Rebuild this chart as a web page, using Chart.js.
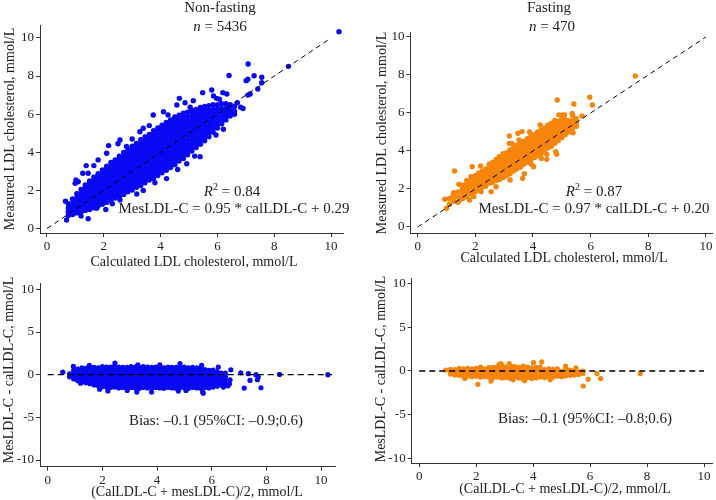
<!DOCTYPE html>
<html><head><meta charset="utf-8">
<script src="https://cdn.jsdelivr.net/npm/chart.js@4.4.1/dist/chart.umd.min.js"></script>
<style>
html,body{margin:0;padding:0;background:#fff;}
body{width:716px;height:500px;position:relative;overflow:hidden;font-family:"Liberation Serif","Times New Roman",serif;color:#222;}
canvas{position:absolute;left:0;top:0;}
.t{position:absolute;white-space:nowrap;transform:translate(-50%,-50%);font-size:15px;line-height:1;}
.a{position:absolute;white-space:nowrap;transform:translate(-50%,-50%);font-size:14px;line-height:1;}
.v{transform:translate(-50%,-50%) rotate(-90deg);}
sup{font-size:10px;vertical-align:0;position:relative;top:-6px;}
</style></head><body>
<canvas id="c1" width="716" height="500" style="width:716px;height:500px"></canvas>
<canvas id="c2" width="716" height="500" style="width:716px;height:500px"></canvas>
<canvas id="c3" width="716" height="500" style="width:716px;height:500px"></canvas>
<canvas id="c4" width="716" height="500" style="width:716px;height:500px"></canvas>

<div class="t" style="left:220px;top:7px">Non-fasting</div>
<div class="t" style="left:220px;top:26px"><i>n</i> = 5436</div>
<div class="t" style="left:549px;top:7px">Fasting</div>
<div class="t" style="left:552px;top:26px"><i>n</i> = 470</div>
<div class="t" style="left:232px;top:191px"><i>R</i><sup>2</sup> = 0.84</div>
<div class="t" style="left:234px;top:208px">MesLDL-C = 0.95 * calLDL-C + 0.29</div>
<div class="t" style="left:594px;top:191px"><i>R</i><sup>2</sup> = 0.87</div>
<div class="t" style="left:594px;top:208px">MesLDL-C = 0.97 * calLDL-C + 0.20</div>
<div class="t" style="left:216px;top:420px">Bias: –0.1 (95%CI: –0.9;0.6)</div>
<div class="t" style="left:585px;top:418px">Bias: –0.1 (95%CI: –0.8;0.6)</div>

<div class="a" style="left:194px;top:262px">Calculated LDL cholesterol, mmol/L</div>
<div class="a" style="left:564px;top:258px">Calculated LDL cholesterol, mmol/L</div>
<div class="a" style="left:197px;top:492px">(CalLDL-C + mesLDL-C)/2, mmol/L</div>
<div class="a" style="left:565px;top:489px">(CalLDL-C + mesLDL-C)/2, mmol/L</div>
<div class="a v" style="left:10px;top:129px">Measured LDL cholesterol, mmol/L</div>
<div class="a v" style="left:382px;top:133px">Measured LDL cholesterol, mmol/L</div>
<div class="a v" style="left:9px;top:370px">MesLDL-C - calLDL-C, mmol/L</div>
<div class="a v" style="left:381px;top:369px">MesLDL-C - calLDL-C, mmol/L</div>

<script>
// ---------- tick labels ----------
const xTicks = [0, 2, 4, 6, 8, 10];
const yTicksScatter = [0, 2, 4, 6, 8, 10];
const yTicksDiff = [-10, -5, 0, 5, 10];

// ---------- Non-fasting: measured vs calculated (dense core read column by column: [calc, [measured...]]) ----------
const nfCore = [
 [0.75,[0.68,0.88,1.08,1.30]],
 [0.90,[0.73,0.93,1.13,1.33,1.55]],
 [1.05,[0.82,1.02,1.22,1.42,1.62,1.82]],
 [1.20,[0.86,1.06,1.26,1.46,1.66,1.86,2.05]],
 [1.35,[0.95,1.15,1.35,1.55,1.75,1.95,2.15,2.28]],
 [1.50,[1.00,1.20,1.40,1.60,1.80,2.00,2.20,2.40,2.50]],
 [1.65,[1.09,1.29,1.49,1.69,1.89,2.09,2.29,2.49,2.69]],
 [1.80,[1.18,1.38,1.58,1.78,1.98,2.18,2.38,2.58,2.78,2.88]],
 [1.95,[1.27,1.47,1.67,1.87,2.07,2.27,2.47,2.67,2.87,3.07]],
 [2.10,[1.37,1.57,1.77,1.97,2.17,2.37,2.57,2.77,2.97,3.17,3.27]],
 [2.25,[1.46,1.66,1.86,2.06,2.26,2.46,2.66,2.86,3.06,3.26,3.46]],
 [2.40,[1.60,1.80,2.00,2.20,2.40,2.60,2.80,3.00,3.20,3.40,3.60]],
 [2.55,[1.69,1.89,2.09,2.29,2.49,2.69,2.89,3.09,3.29,3.49,3.69,3.79]],
 [2.70,[1.79,1.99,2.19,2.39,2.59,2.79,2.99,3.19,3.39,3.59,3.79,3.99]],
 [2.85,[1.93,2.13,2.33,2.53,2.73,2.93,3.13,3.33,3.53,3.73,3.93,4.13]],
 [3.00,[2.02,2.22,2.42,2.62,2.82,3.02,3.22,3.42,3.62,3.82,4.02,4.22,4.32]],
 [3.15,[2.16,2.36,2.56,2.76,2.96,3.16,3.36,3.56,3.76,3.96,4.16,4.36,4.46]],
 [3.30,[2.26,2.46,2.66,2.86,3.06,3.26,3.46,3.66,3.86,4.06,4.26,4.46,4.66]],
 [3.45,[2.40,2.60,2.80,3.00,3.20,3.40,3.60,3.80,4.00,4.20,4.40,4.60,4.80]],
 [3.60,[2.54,2.74,2.94,3.14,3.34,3.54,3.74,3.94,4.14,4.34,4.54,4.74,4.94]],
 [3.75,[2.63,2.83,3.03,3.23,3.43,3.63,3.83,4.03,4.23,4.43,4.63,4.83,5.03,5.13]],
 [3.90,[2.78,2.98,3.18,3.38,3.58,3.78,3.98,4.18,4.38,4.58,4.78,4.98,5.18,5.28]],
 [4.05,[2.92,3.12,3.32,3.52,3.72,3.92,4.12,4.32,4.52,4.72,4.92,5.12,5.32,5.42]],
 [4.20,[3.06,3.26,3.46,3.66,3.86,4.06,4.26,4.46,4.66,4.86,5.06,5.26,5.46,5.56]],
 [4.35,[3.20,3.40,3.60,3.80,4.00,4.20,4.40,4.60,4.80,5.00,5.20,5.40,5.60,5.70]],
 [4.50,[3.35,3.55,3.75,3.95,4.15,4.35,4.55,4.75,4.95,5.15,5.35,5.55,5.75,5.85]],
 [4.65,[3.54,3.74,3.94,4.14,4.34,4.54,4.74,4.94,5.14,5.34,5.54,5.74,5.94]],
 [4.80,[3.68,3.88,4.08,4.28,4.48,4.68,4.88,5.08,5.28,5.48,5.68,5.88,6.05]],
 [4.95,[3.87,4.07,4.27,4.47,4.67,4.87,5.07,5.27,5.47,5.67,5.87,6.10]],
 [5.10,[4.07,4.27,4.47,4.67,4.87,5.07,5.27,5.47,5.67,5.87,6.07,6.20]],
 [5.25,[4.25,4.45,4.65,4.85,5.05,5.25,5.45,5.65,5.85,6.05,6.25]],
 [5.40,[4.42,4.62,4.82,5.02,5.22,5.42,5.62,5.82,6.02,6.22,6.35]],
 [5.55,[4.60,4.80,5.00,5.20,5.40,5.60,5.80,6.00,6.20,6.40]],
 [5.70,[4.82,5.02,5.22,5.42,5.62,5.82,6.02,6.22,6.45]],
 [5.85,[5.05,5.25,5.45,5.65,5.85,6.05,6.25,6.50]],
 [6.00,[5.27,5.47,5.67,5.87,6.07,6.27,6.50]],
 [6.15,[5.50,5.70,5.90,6.10,6.30,6.55]],
 [6.30,[5.70,5.90,6.10,6.30,6.55]],
 [6.45,[5.90,6.10,6.30,6.50]],
 [6.60,[6.15,6.40]]
];
const nfScatter = [
 [10.28,10.33],[8.50,8.51],[7.08,8.63],[6.41,8.03],[7.29,8.02],[7.56,7.94],[7.56,7.65],[7.01,7.76],[7.07,7.83],
 [7.42,7.32],[7.15,7.06],[7.07,7.00],[6.82,6.36],[5.80,7.27],[6.19,7.13],[6.33,7.06],[5.48,7.13],[5.86,6.96],
 [5.97,6.83],[6.07,6.78],[4.66,6.83],[5.15,6.71],[4.86,6.60],[4.57,6.48],[5.04,6.36],[4.10,6.13],[3.74,5.96],
 [4.26,5.96],[6.44,5.99],[3.39,5.26],[3.27,5.08],[2.57,4.65],[2.50,4.45],[2.17,4.35],[2.10,3.95],[1.65,3.30],
 [1.80,3.60],[1.38,3.30],[1.45,2.90],[1.26,2.90],[1.02,2.55],[0.99,2.37],[1.10,2.45],[0.65,1.43],[0.69,0.45],
 [1.45,0.51],[2.07,1.00],[1.75,1.06],[3.16,1.81],[2.57,1.50],[3.39,2.00],[4.21,2.62],[4.92,3.40],[5.39,3.77],
 [5.95,4.91],[6.21,5.21],[5.64,4.96],[6.60,6.00],[6.90,6.30],[3.00,4.70],[3.60,5.40],[2.80,4.30],[4.60,3.10],
 [5.20,3.80],[3.80,2.40],[2.30,1.30],[1.20,0.65],[6.70,6.60]
];

// ---------- Fasting: measured vs calculated ----------
const fCore = [
 [1.10,[1.20,1.50]],
 [1.25,[1.35,1.55,1.80]],
 [1.40,[1.30,1.60,1.85]],
 [1.55,[1.50,1.75,2.00,2.20]],
 [1.70,[1.60,1.85,2.05,2.25,2.45]],
 [1.85,[1.75,1.95,2.20,2.45,2.65]],
 [2.00,[1.85,2.05,2.25,2.50,2.70]],
 [2.12,[1.95,2.20,2.40,2.65,2.85]],
 [2.24,[2.10,2.30,2.50,2.70,2.95]],
 [2.36,[2.15,2.40,2.60,2.80,3.05]],
 [2.48,[2.30,2.50,2.70,2.90,3.10,3.30]],
 [2.60,[2.35,2.60,2.80,3.00,3.20,3.40]],
 [2.72,[2.45,2.70,2.90,3.10,3.35,3.55]],
 [2.84,[2.50,2.70,2.90,3.10,3.30,3.50,3.70]],
 [2.96,[2.60,2.80,3.00,3.20,3.40,3.60,3.85]],
 [3.08,[2.70,2.90,3.10,3.30,3.50,3.70,3.90]],
 [3.20,[2.80,3.00,3.20,3.40,3.60,3.80,4.05]],
 [3.32,[2.95,3.15,3.35,3.55,3.75,3.95,4.15]],
 [3.44,[3.05,3.25,3.45,3.65,3.85,4.05,4.30]],
 [3.56,[3.15,3.35,3.55,3.75,3.95,4.15,4.40]],
 [3.68,[3.30,3.50,3.70,3.90,4.10,4.30,4.50]],
 [3.80,[3.40,3.60,3.80,4.00,4.20,4.40,4.65]],
 [3.92,[3.50,3.70,3.90,4.10,4.30,4.50,4.75]],
 [4.04,[3.65,3.85,4.05,4.25,4.45,4.65,4.85]],
 [4.16,[3.75,3.95,4.15,4.35,4.55,4.75,5.00]],
 [4.28,[3.85,4.05,4.25,4.45,4.65,4.85,5.10]],
 [4.40,[4.00,4.20,4.40,4.60,4.80,5.00,5.20]],
 [4.52,[4.15,4.35,4.55,4.75,4.95,5.15,5.35]],
 [4.64,[4.25,4.45,4.65,4.85,5.05,5.25,5.45]],
 [4.76,[4.40,4.60,4.80,5.00,5.20,5.40,5.60]],
 [4.88,[4.55,4.75,4.95,5.15,5.35,5.55]],
 [5.00,[4.70,4.90,5.10,5.30,5.50,5.70]],
 [5.12,[4.85,5.05,5.25,5.45,5.65]],
 [5.24,[5.00,5.20,5.40,5.60]],
 [5.36,[5.15,5.35,5.55]],
 [5.50,[5.30,5.50,5.70]]
];
const fScatter = [
 [0.94,1.46],[1.00,0.98],[1.23,1.68],[1.28,2.95],[1.43,2.25],[1.46,1.42],[1.57,2.09],[1.57,1.51],[1.63,1.86],
 [1.74,2.26],[1.86,1.77],[1.92,2.47],[2.03,2.30],[2.18,3.21],[2.32,2.47],[1.80,1.42],[1.95,1.60],[2.20,1.86],
 [2.55,1.86],[2.72,2.12],[2.83,3.70],[2.95,3.53],[3.18,4.40],[3.52,4.58],[3.70,4.40],[3.64,2.56],[3.70,2.80],
 [3.21,2.47],[3.19,2.83],[4.02,3.17],[4.79,3.96],[4.48,3.83],[4.48,3.56],[4.82,3.83],[4.67,4.93],[5.02,5.89],
 [5.36,5.98],[4.84,6.68],[5.42,6.47],[5.97,6.83],[6.06,6.42],[5.10,5.90],[5.38,5.84],[5.70,5.84],[5.51,5.49],
 [5.39,4.96],[7.55,7.95],[1.89,3.17],[3.18,4.79],[3.48,4.93],[3.62,5.02],[3.88,5.00],[3.27,4.40],[4.25,5.37],
 [4.53,5.37],[4.90,5.90],[5.25,5.46],[4.96,5.19],[2.60,2.38],[2.49,2.74],[2.66,2.91],[4.30,3.60],[3.95,3.30]
];

// ---------- Non-fasting: Bland-Altman (mean, difference) ----------
const nfBaCore = [
 [0.80,[-0.25,0.10]],
 [0.95,[-0.50,-0.15,0.20,0.50]],
 [1.10,[-0.70,-0.35,0.00,0.35,0.65]],
 [1.25,[-0.85,-0.50,-0.15,0.20,0.55,0.80]],
 [1.40,[-0.95,-0.60,-0.25,0.10,0.45,0.75]],
 [1.55,[-1.05,-0.70,-0.35,0.00,0.35,0.70,0.90]],
 [1.70,[-1.20,-0.85,-0.50,-0.15,0.20,0.55,0.85]],
 [1.85,[-1.30,-0.95,-0.60,-0.25,0.10,0.45,0.80]],
 [2.00,[-1.40,-1.05,-0.70,-0.35,0.00,0.35,0.70,0.95]],
 [2.15,[-1.45,-1.10,-0.75,-0.40,-0.05,0.30,0.65,0.90]],
 [2.30,[-1.50,-1.15,-0.80,-0.45,-0.10,0.25,0.60,0.90]],
 [2.45,[-1.45,-1.10,-0.75,-0.40,-0.05,0.30,0.65,1.00]],
 [2.60,[-1.55,-1.20,-0.85,-0.50,-0.15,0.20,0.55,0.90]],
 [2.75,[-1.50,-1.15,-0.80,-0.45,-0.10,0.25,0.60,0.85]],
 [2.90,[-1.60,-1.25,-0.90,-0.55,-0.20,0.15,0.50,0.85]],
 [3.05,[-1.50,-1.15,-0.80,-0.45,-0.10,0.25,0.60,0.95]],
 [3.20,[-1.55,-1.20,-0.85,-0.50,-0.15,0.20,0.55,0.90]],
 [3.35,[-1.60,-1.25,-0.90,-0.55,-0.20,0.15,0.50,0.85]],
 [3.50,[-1.50,-1.15,-0.80,-0.45,-0.10,0.25,0.60,0.95]],
 [3.65,[-1.55,-1.20,-0.85,-0.50,-0.15,0.20,0.55,0.90]],
 [3.80,[-1.60,-1.25,-0.90,-0.55,-0.20,0.15,0.50,0.85]],
 [3.95,[-1.50,-1.15,-0.80,-0.45,-0.10,0.25,0.60,0.90]],
 [4.10,[-1.55,-1.20,-0.85,-0.50,-0.15,0.20,0.55,0.85]],
 [4.25,[-1.60,-1.25,-0.90,-0.55,-0.20,0.15,0.50,0.80]],
 [4.40,[-1.50,-1.15,-0.80,-0.45,-0.10,0.25,0.60,0.90]],
 [4.55,[-1.55,-1.20,-0.85,-0.50,-0.15,0.20,0.55,0.85]],
 [4.70,[-1.60,-1.25,-0.90,-0.55,-0.20,0.15,0.50,0.85]],
 [4.85,[-1.50,-1.15,-0.80,-0.45,-0.10,0.25,0.60,0.95]],
 [5.00,[-1.55,-1.20,-0.85,-0.50,-0.15,0.20,0.55,0.90]],
 [5.15,[-1.60,-1.25,-0.90,-0.55,-0.20,0.15,0.50,0.80]],
 [5.30,[-1.50,-1.15,-0.80,-0.45,-0.10,0.25,0.60,0.85]],
 [5.45,[-1.55,-1.20,-0.85,-0.50,-0.15,0.20,0.55,0.80]],
 [5.60,[-1.60,-1.25,-0.90,-0.55,-0.20,0.15,0.50,0.75]],
 [5.75,[-1.50,-1.15,-0.80,-0.45,-0.10,0.25,0.60]],
 [5.90,[-1.55,-1.20,-0.85,-0.50,-0.15,0.20,0.50]],
 [6.05,[-1.45,-1.10,-0.75,-0.40,-0.05,0.30,0.55]],
 [6.20,[-1.35,-1.00,-0.65,-0.30,0.05,0.35]],
 [6.35,[-1.20,-0.85,-0.50,-0.15,0.20]],
 [6.50,[-1.00,-0.60,-0.20,0.20]]
];
const nfBaScatter = [
 [0.55,0.30],[0.94,0.97],[1.52,1.09],[2.46,1.36],[3.26,-2.04],[2.91,-1.84],[5.06,-1.84],[5.67,-2.04],[5.63,1.09],
 [6.24,0.89],[6.43,-1.45],[6.67,-0.59],[6.65,-1.06],[6.70,0.58],[7.06,0.23],[7.34,0.12],[7.62,0.00],[7.40,-0.67],
 [7.67,-0.59],[7.70,-0.28],[7.19,-1.57],[7.80,-1.53],[8.48,0.03],[10.25,0.00],[3.80,-2.04],[4.78,-1.92],
 [5.69,-2.16],[4.84,1.29],[3.30,1.15],[4.10,1.15],[1.90,-1.70],[2.20,-1.90],[1.20,-1.00],[6.60,-1.30]
];

// ---------- Fasting: Bland-Altman ----------
const fBaCore = [
 [1.10,[-0.35,-0.05,0.20]],
 [1.25,[-0.45,-0.15,0.15]],
 [1.40,[-0.50,-0.20,0.10,0.30]],
 [1.55,[-0.60,-0.30,0.00,0.25]],
 [1.70,[-0.55,-0.25,0.05,0.30]],
 [1.85,[-0.65,-0.35,-0.05,0.25]],
 [2.00,[-0.60,-0.30,0.00,0.30]],
 [2.15,[-0.70,-0.40,-0.10,0.20,0.45]],
 [2.30,[-0.65,-0.35,-0.05,0.25]],
 [2.45,[-0.70,-0.40,-0.10,0.20,0.40]],
 [2.60,[-0.75,-0.45,-0.15,0.15,0.40]],
 [2.75,[-0.70,-0.40,-0.10,0.20,0.50]],
 [2.90,[-0.80,-0.50,-0.20,0.10,0.40,0.65]],
 [3.05,[-0.75,-0.45,-0.15,0.15,0.45]],
 [3.20,[-0.85,-0.55,-0.25,0.05,0.35,0.60]],
 [3.35,[-0.70,-0.40,-0.10,0.20,0.50]],
 [3.50,[-0.80,-0.50,-0.20,0.10,0.40]],
 [3.65,[-0.90,-0.60,-0.30,0.00,0.30,0.55]],
 [3.80,[-0.75,-0.45,-0.15,0.15,0.45]],
 [3.95,[-0.85,-0.55,-0.25,0.05,0.35]],
 [4.10,[-0.80,-0.50,-0.20,0.10,0.40]],
 [4.25,[-0.70,-0.40,-0.10,0.20,0.45]],
 [4.40,[-0.75,-0.45,-0.15,0.15]],
 [4.55,[-0.65,-0.35,-0.05,0.25]],
 [4.70,[-0.70,-0.40,-0.10,0.20]],
 [4.85,[-0.60,-0.30,0.00,0.25]],
 [5.00,[-0.65,-0.35,-0.05]],
 [5.15,[-0.55,-0.25,0.05,0.30]],
 [5.30,[-0.50,-0.20,0.10]],
 [5.45,[-0.45,-0.15]],
 [5.60,[-0.40,-0.10]],
 [5.75,[-0.30,0.00]]
];
const fBaScatter = [
 [0.93,0.11],[2.06,-1.52],[2.52,-1.14],[5.76,-1.71],[5.93,-0.95],[6.24,-0.30],[6.37,-0.87],[7.76,-0.30],
 [5.47,0.11],[5.14,0.57],[4.01,0.95],[4.30,1.03],[2.87,0.83],[3.16,0.83],[2.81,0.76],[3.70,-1.10],
 [3.30,-1.00],[4.60,-1.00],[1.60,-0.85],[5.50,0.35]
];

// ---------- reference lines ----------
const identityLine = [[0,0],[10,10]];
const zeroLineNf = [[0,0],[10.4,0]];
const zeroLineF = [[0,0],[10,0]];

const FONT = '"Liberation Serif","Times New Roman",serif';
const BLUE = '#0808f4';
const ORANGE = '#f7850c';

function toPoints(cols, extra) {
  const pts = [];
  cols.forEach(([x, ys]) => ys.forEach(y => pts.push({x: x, y: y})));
  extra.forEach(([x, y]) => pts.push({x: x, y: y}));
  return pts;
}
const xy = arr => arr.map(([x, y]) => ({x: x, y: y}));

function panel(id, g, pts, color, radius, line, dash, lw, yTicks) {
  const axisCommon = (ticksArr, fitFn) => ({
    type: 'linear',
    afterBuildTicks: a => { a.ticks = ticksArr.map(v => ({value: v})); },
    afterFit: fitFn,
    grid: {drawOnChartArea: false, drawTicks: true, tickLength: 4, color: '#333', lineWidth: 1},
    border: {display: true, color: '#333', width: 1},
    ticks: {padding: 2, color: '#222', font: {family: FONT, size: 13}, maxRotation: 0, autoSkip: false}
  });
  const xs = Object.assign(axisCommon(xTicks, s => { s.height = g.xH; }), {min: g.xmin, max: g.xmax});
  const ys = Object.assign(axisCommon(yTicks, s => { s.width = g.L - g.padL; }), {min: g.ymin, max: g.ymax});
  new Chart(document.getElementById(id), {
    type: 'scatter',
    data: {datasets: [
      {type: 'line', data: xy(line), borderColor: '#000', borderWidth: lw, borderDash: dash,
       pointRadius: 0, fill: false, tension: 0, order: 0},
      {type: 'scatter', data: pts, backgroundColor: color, borderColor: color, borderWidth: 0, pointRadius: radius, order: 1}
    ]},
    options: {
      responsive: false, animation: false, events: [],
      layout: {padding: {left: g.padL, top: g.T, right: 716 - g.R, bottom: 500 - g.B - g.xH}},
      plugins: {legend: {display: false}, tooltip: {enabled: false}, title: {display: false}},
      scales: {x: xs, y: ys}
    }
  });
}

panel('c1', {L:40, padL:0, T:25, R:343, B:233, xH:25, xmin:-0.246, xmax:10.42, ymin:-0.236, ymax:10.68},
      toPoints(nfCore, nfScatter), BLUE, 2.7, identityLine, [5,4], 1, yTicksScatter);
panel('c2', {L:410.5, padL:370, T:32, R:714, B:233, xH:25, xmin:-0.248, xmax:10.21, ymin:-0.316, ymax:10.26},
      toPoints(fCore, fScatter), ORANGE, 2.7, identityLine, [5,4], 1, yTicksScatter);
panel('c3', {L:40, padL:0, T:283, R:335, B:466.7, xH:25, xmin:-0.282, xmax:10.51, ymin:-10.785, ymax:10.75},
      toPoints(nfBaCore, nfBaScatter), BLUE, 2.6, zeroLineNf, [6,4], 1.3, yTicksDiff);
panel('c4', {L:411.7, padL:370, T:278, R:714, B:463, xH:25, xmin:-0.265, xmax:10.28, ymin:-10.49, ymax:10.6},
      toPoints(fBaCore, fBaScatter), ORANGE, 2.6, zeroLineF, [6,4], 1.3, yTicksDiff);
</script>
</body></html>
